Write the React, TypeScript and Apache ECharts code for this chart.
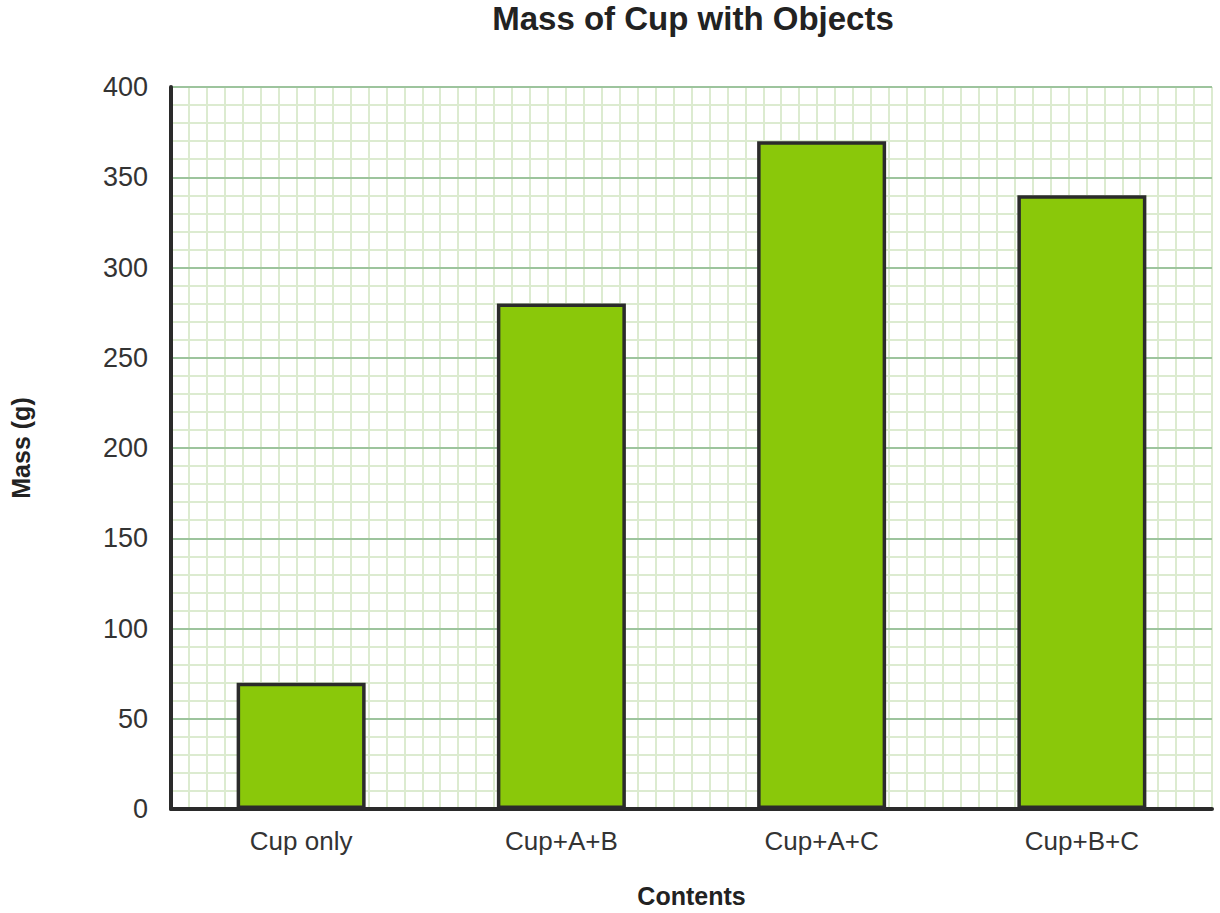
import React, { useEffect, useRef } from "react";
import * as echarts from "echarts";

const categories = ["Cup only", "Cup+A+B", "Cup+A+C", "Cup+B+C"];
const masses = [70, 280, 370, 340];
const yTicks = { min: 0, max: 400, interval: 50 };

export default function App() {
  const ref = useRef<HTMLDivElement>(null);
  useEffect(() => {
    if (!ref.current) return;
    const chart = echarts.init(ref.current, undefined, { renderer: "svg" });
    const font = "Liberation Sans, Arial, sans-serif";
    chart.setOption({
      animation: false,
      backgroundColor: "#ffffff",
      title: {
        text: "Mass of Cup with Objects",
        left: 688,
        textAlign: "center",
        top: -3,
        textStyle: { fontFamily: font, fontSize: 33, fontWeight: "bold", color: "#222222" },
      },
      grid: { left: 163, right: 8, top: 87, bottom: 103, containLabel: false },
      xAxis: [
        {
          type: "category",
          data: categories,
          position: "bottom",
          name: "Contents",
          nameLocation: "middle",
          nameGap: 74,
          nameTextStyle: { fontFamily: font, fontSize: 25, fontWeight: "bold", color: "#222222" },
          axisLine: { show: true, lineStyle: { color: "#2a2a2a", width: 4 } },
          axisTick: { show: false },
          axisLabel: { fontFamily: font, fontSize: 26, color: "#333333", margin: 19 },
          splitLine: { show: false },
          z: 3,
        },
        {
          type: "value",
          position: "top",
          min: 0,
          max: 58,
          interval: 1,
          axisLine: { show: false },
          axisTick: { show: false },
          axisLabel: { show: false },
          splitLine: { show: true, lineStyle: { color: "#dcebd0", width: 2 } },
          z: 0,
        },
      ],
      yAxis: {
        type: "value",
        min: yTicks.min,
        max: yTicks.max,
        interval: yTicks.interval,
        name: "Mass (g)",
        nameLocation: "middle",
        nameGap: 138,
        nameTextStyle: { fontFamily: font, fontSize: 25, fontWeight: "bold", color: "#222222" },
        axisLine: { show: true, lineStyle: { color: "#2a2a2a", width: 4 } },
        axisTick: { show: false },
        axisLabel: { fontFamily: font, fontSize: 27, color: "#333333", margin: 23 },
        splitLine: { show: true, lineStyle: { color: "#9dc49d", width: 2 } },
        minorTick: { show: false, splitNumber: 5 },
        minorSplitLine: { show: true, lineStyle: { color: "#dcebd0", width: 2 } },
        z: 2,
      },
      series: [
        {
          type: "bar",
          data: masses,
          barWidth: 129,
          itemStyle: { color: "#8ac80a", borderColor: "#2b2b2b", borderWidth: 3.5 },
          z: 4,
        },
      ],
    });
    return () => chart.dispose();
  }, []);
  return (
    <div
      ref={ref}
      style={{ position: "absolute", left: 0, top: 0, width: 1220, height: 913 }}
    />
  );
}
